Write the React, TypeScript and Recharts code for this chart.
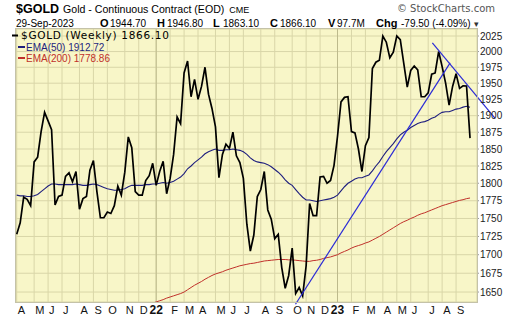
import { CartesianGrid, Line, LineChart, ReferenceLine, XAxis, YAxis } from "recharts";

// weekly closes, 1-Apr-2021 .. 29-Sep-2023
const weeklyClose = [
  1728, 1744, 1780, 1777, 1768, 1831, 1838, 1876, 1905, 1892, 1879, 1769, 1781, 1783, 1810, 1815,
  1802, 1817, 1763, 1778, 1781, 1819, 1833, 1788, 1751, 1751, 1759, 1757, 1768, 1796, 1783, 1816,
  1868, 1852, 1788, 1783, 1783, 1804, 1811, 1829, 1797, 1817, 1832, 1785, 1807, 1842, 1898, 1888,
  1966, 1985, 1929, 1956, 1925, 1945, 1975, 1933, 1911, 1883, 1808, 1842, 1857, 1851, 1875, 1840,
  1830, 1807, 1742, 1705, 1727, 1781, 1791, 1817, 1762, 1749, 1722, 1728, 1683, 1655, 1672, 1709,
  1648, 1656, 1645, 1685, 1771, 1754, 1754, 1809, 1810, 1800, 1804, 1826, 1869, 1921, 1928, 1929,
  1876, 1874, 1850, 1817, 1855, 1867, 1973, 1983, 1986, 2025, 2015, 1990, 1999, 2025, 2019, 1981,
  1944, 1970, 1977, 1971, 1929, 1929, 1935, 1964, 1966, 2000, 1976, 1950, 1916, 1945, 1965, 1942,
  1946, 1945.6, 1866.1,
];

const ema50 = [
  1783, 1782, 1782, 1781, 1781, 1782, 1784, 1788, 1792, 1796, 1799, 1799, 1798, 1798, 1798, 1798,
  1798, 1799, 1798, 1797, 1797, 1798, 1799, 1798, 1796, 1794, 1792, 1791, 1790, 1790, 1791, 1792,
  1795, 1797, 1797, 1797, 1797, 1798, 1798, 1799, 1799, 1800, 1801, 1800, 1801, 1803, 1806, 1809,
  1814, 1821, 1825, 1830, 1834, 1838, 1843, 1846, 1848, 1850, 1848, 1848, 1849, 1849, 1850, 1849,
  1848, 1846, 1842, 1837, 1833, 1831, 1830, 1829, 1827, 1824, 1820, 1816, 1811, 1805, 1800, 1797,
  1791, 1785, 1780, 1776, 1776, 1775, 1774, 1775, 1776, 1777, 1778, 1780, 1783, 1789, 1795, 1800,
  1803, 1806, 1808, 1808, 1810, 1812, 1818, 1825, 1831, 1839, 1846, 1852, 1858, 1865, 1871, 1875,
  1878, 1882, 1885, 1888, 1890, 1891, 1893, 1896, 1898, 1902, 1905, 1906, 1906, 1908, 1910, 1911,
  1913, 1914.4, 1912.72,
];

// EMA(200) only comes into view from week 38
const ema200From = 38;
const ema200 = [
  1634, 1635.5, 1637, 1638.5, 1640, 1642, 1643.5, 1645, 1646.5, 1648, 1650, 1653, 1656, 1659, 1661.5,
  1664, 1667, 1669.5, 1672, 1674, 1675.5, 1677, 1679, 1680.5, 1682, 1683.5, 1685, 1686, 1687, 1688,
  1688.5, 1689.5, 1690.5, 1691.5, 1692, 1692.5, 1693, 1693.5, 1693.5, 1693.5, 1693, 1693, 1692.5,
  1692, 1691.5, 1691, 1691, 1692, 1692.5, 1693.5, 1695, 1696, 1697, 1698.5, 1700, 1702.5, 1704.5,
  1706.5, 1709, 1711, 1712.5, 1714, 1716, 1717.5, 1720, 1722.5, 1725, 1728, 1731, 1734, 1737, 1740,
  1743, 1745.5, 1747.5, 1750, 1752, 1754.5, 1756.5, 1758, 1760, 1762, 1764, 1766, 1768, 1769.5,
  1771, 1772.5, 1774, 1775.5, 1776.5, 1778, 1778.86,
];

// first weekly bar of each month
const monthTickIdx = [
  0, 5, 9, 13, 18, 22, 26, 31, 35, 40, 44, 48, 52, 57, 61, 65, 70, 74, 79, 83, 87, 92, 96, 100,
  105, 109, 113, 118, 122, 126,
];
const monthLabels = [
  "A", "M", "J", "J", "A", "S", "O", "N", "D", "22", "F", "M", "A", "M", "J", "J", "A", "S", "O",
  "N", "D", "23", "F", "M", "A", "M", "J", "J", "A", "S",
];
const yearTicks = [40, 92];

const priceTicks = [
  1650, 1675, 1700, 1725, 1750, 1775, 1800, 1825, 1850, 1875, 1900, 1925, 1950, 1975, 2000, 2025,
];

const trendLines = [
  [{ x: 79.95, y: 1634 }, { x: 124.3, y: 1982 }],
  [{ x: 119.2, y: 2014 }, { x: 137.2, y: 1896 }],
];

const rows = weeklyClose.map((close, i) => ({
  i,
  close,
  ema50: ema50[i],
  ema200: i >= ema200From ? ema200[i - ema200From] : null,
}));

const SANS = "'Liberation Sans', Arial, sans-serif";
const DEJAVU = "'DejaVu Sans', sans-serif";
const PLOT_BG = "#F8F6C8";
const GRID = "#D9D6A8";
const TREND = "#2B2BD6";
const EMA50_C = "#1E1E7E";
const EMA200_C = "#C0302A";

function MonthTick(props: any) {
  const { x, payload } = props;
  const k = monthTickIdx.indexOf(payload.value);
  const label = monthLabels[k] ?? "";
  const isYear = label.length > 1;
  return (
    <text
      x={isYear ? x : x + 1}
      y={313.5}
      textAnchor={isYear ? "middle" : "start"}
      fontFamily={SANS}
      fontSize={isYear ? 12 : 11}
      fontWeight={isYear ? 700 : 400}
      fill="#111"
    >
      {label}
    </text>
  );
}

const quote: [number, string, boolean][] = [
  [100, "O", true],
  [110, "1944.70", false],
  [157, "H", true],
  [167, "1946.80", false],
  [213, "L", true],
  [223, "1863.10", false],
  [270, "C", true],
  [280, "1866.10", false],
  [328, "V", true],
  [337, "97.7M", false],
  [376, "Chg", true],
  [401, "-79.50 (-4.09%)", false],
];

export default function App() {
  return (
    <div style={{ position: "absolute", left: 0, top: 0, width: 520, height: 318, background: "#fff" }}>
      <LineChart width={520} height={318} data={rows} margin={{ top: 29, right: 0, bottom: 0, left: 16 }}>
        <CartesianGrid stroke={GRID} fill={PLOT_BG} fillOpacity={1} />
        <XAxis
          dataKey="i"
          type="number"
          domain={[-0.2, 132]}
          allowDataOverflow
          ticks={monthTickIdx}
          interval={0}
          height={16}
          axisLine={false}
          tickLine={false}
          tick={<MonthTick />}
        />
        <YAxis
          orientation="right"
          scale="log"
          domain={[1636.9, 2036.4]}
          allowDataOverflow
          ticks={priceTicks}
          interval={0}
          width={43}
          axisLine={false}
          tickLine={{ stroke: "#999" }}
          tickSize={2}
          tickMargin={1}
          tick={{ fill: "#222", fontSize: 10, fontFamily: SANS }}
        />
        {yearTicks.map((t) => (
          <ReferenceLine key={t} x={t} stroke="#BDBA8C" />
        ))}
        <Line dataKey="ema200" stroke={EMA200_C} strokeWidth={1} dot={false} isAnimationActive={false} />
        <Line dataKey="ema50" stroke={EMA50_C} strokeWidth={1.1} dot={false} isAnimationActive={false} />
        <Line dataKey="close" stroke="#000" strokeWidth={1.7} dot={false} isAnimationActive={false} />
        {trendLines.map((seg, k) => (
          <ReferenceLine key={k} segment={seg} stroke={TREND} strokeWidth={1.2} ifOverflow="visible" />
        ))}
      </LineChart>

      <div
        style={{
          position: "absolute",
          left: 15,
          top: 28,
          width: 461,
          height: 273,
          border: "1px solid #C4C2A8",
          pointerEvents: "none",
        }}
      />

      <svg width={520} height={318} style={{ position: "absolute", left: 0, top: 0, pointerEvents: "none" }}>
        <text x={16} y={12.5} fontFamily={SANS} fontSize={12.5} fontWeight={700} fill="#000">
          $GOLD
        </text>
        <text x={63} y={12.5} fontFamily={SANS} fontSize={10.6} fill="#000">
          Gold - Continuous Contract (EOD)
          <tspan dx={5} fontSize={9}>
            CME
          </tspan>
        </text>
        <text x={495} y={12} textAnchor="end" fontFamily={DEJAVU} fontSize={10} fill="#555">
          © StockCharts.com
        </text>

        <text x={16} y={26.5} fontFamily={SANS} fontSize={10} fill="#000">
          29-Sep-2023
        </text>
        {quote.map(([x, s, b]) => (
          <text key={x} x={x} y={26.5} fontFamily={SANS} fontSize={b ? 11 : 10} fontWeight={b ? 700 : 400} fill="#000">
            {s}
          </text>
        ))}
        <text x={474} y={26.5} fontFamily={DEJAVU} fontSize={9} fill="#333">
          ▾
        </text>

        <rect x={12} y={34.5} width={6} height={2} fill="#000" />
        <text x={21} y={39} fontFamily={DEJAVU} fontSize={10.5} letterSpacing={0.7} fill="#000">
          $GOLD (Weekly) 1866.10
        </text>
        <rect x={18} y={46} width={7} height={2} fill={EMA50_C} />
        <text x={26} y={50.5} fontFamily={SANS} fontSize={10} fill={EMA50_C}>
          EMA(50) 1912.72
        </text>
        <rect x={18} y={57} width={7} height={2} fill={EMA200_C} />
        <text x={26} y={61.5} fontFamily={SANS} fontSize={10} fill={EMA200_C}>
          EMA(200) 1778.86
        </text>
      </svg>
    </div>
  );
}
